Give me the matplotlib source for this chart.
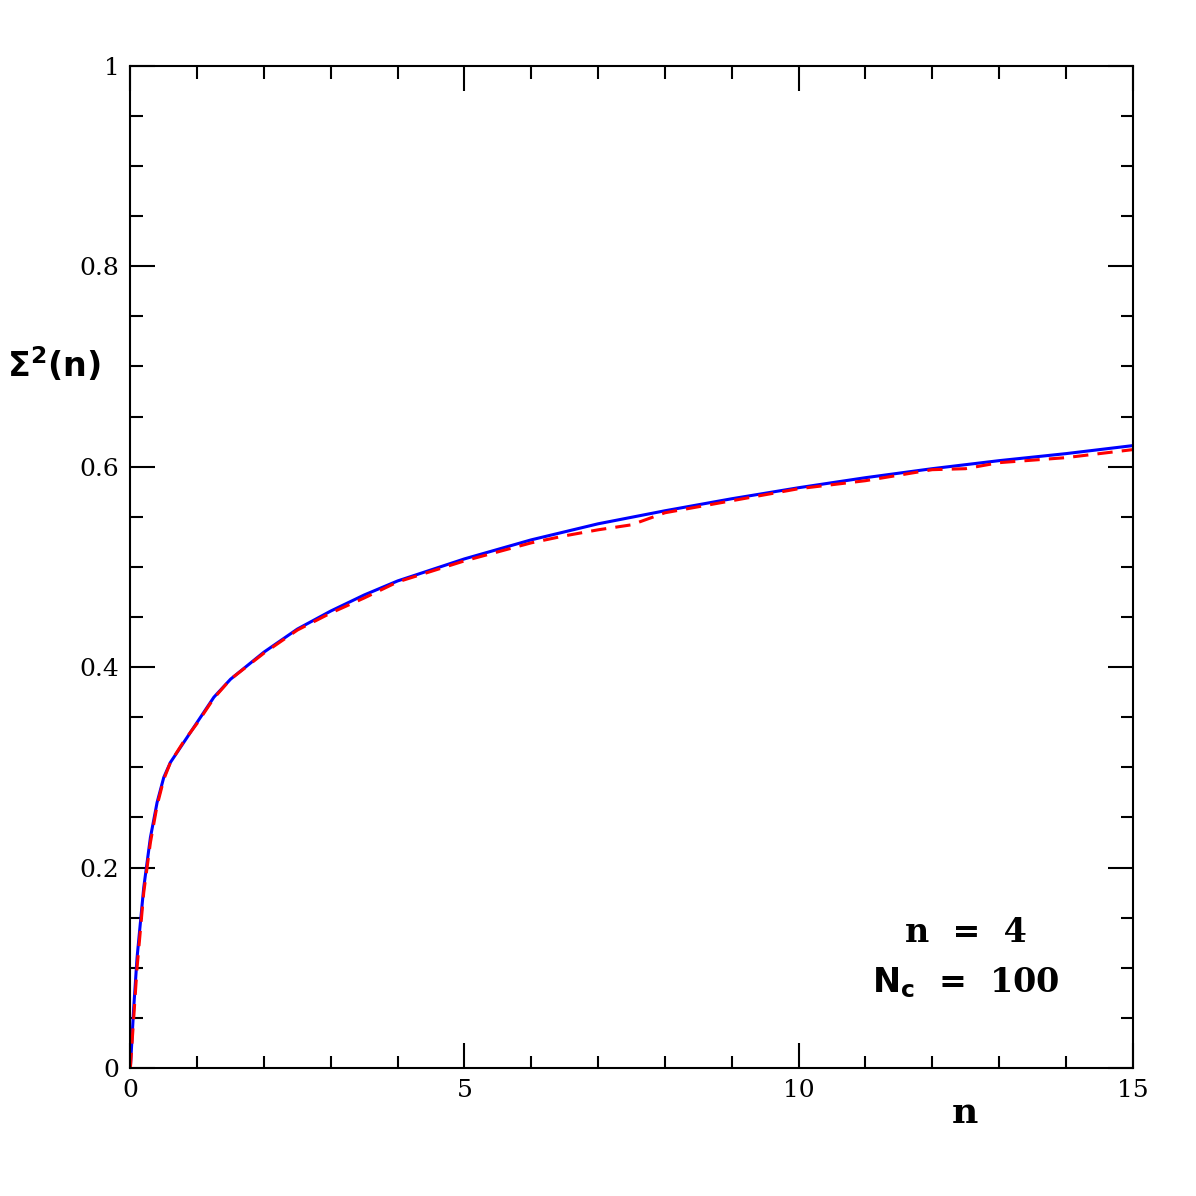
import matplotlib
matplotlib.use("Agg")
import matplotlib.pyplot as plt

n_blue = [0, 0.05, 0.1, 0.2, 0.3, 0.4, 0.5, 0.6, 0.8, 1.0, 1.25, 1.5, 2.0, 2.5, 3.0, 3.5, 4.0, 5.0, 6.0, 7.0, 8.0, 9.0, 10.0, 11.0, 12.0, 13.0, 14.0, 15.0]
s_blue = [0, 0.06, 0.11, 0.18, 0.23, 0.265, 0.29, 0.305, 0.325, 0.345, 0.37, 0.388, 0.415, 0.438, 0.456, 0.472, 0.486, 0.508, 0.527, 0.543, 0.556, 0.568, 0.579, 0.589, 0.598, 0.606, 0.613, 0.621]
n_red = [0, 0.05, 0.1, 0.2, 0.3, 0.4, 0.5, 0.6, 0.8, 1.0, 1.25, 1.5, 2.0, 2.5, 3.0, 3.5, 4.0, 5.0, 6.0, 6.5, 7.0, 7.5, 8.0, 9.0, 10.0, 11.0, 12.0, 12.5, 13.0, 14.0, 15.0]
s_red = [0, 0.05, 0.10, 0.175, 0.225, 0.262, 0.288, 0.305, 0.326, 0.344, 0.369, 0.388, 0.414, 0.437, 0.454, 0.469, 0.485, 0.506, 0.524, 0.531, 0.537, 0.542, 0.554, 0.566, 0.578, 0.586, 0.597, 0.598, 0.604, 0.609, 0.617]

plt.rcParams['font.family'] = 'DejaVu Serif'
fig = plt.figure(figsize=(11.96, 11.96), dpi=100)
ax = fig.add_axes([0.109, 0.107, 0.838, 0.838])
ax.plot(n_blue, s_blue, color='blue', lw=2.2)
ax.plot(n_red, s_red, color='red', lw=2.2, ls=(0, (5, 3)))
ax.set_xlim(0, 15)
ax.set_ylim(0, 1)
ax.set_xticks([0, 5, 10, 15])
ax.set_xticklabels(['0', '5', '10', '15'])
ax.set_yticks([0, 0.2, 0.4, 0.6, 0.8, 1])
ax.set_yticklabels(['0', '0.2', '0.4', '0.6', '0.8', '1'])
ax.set_xticks(range(16), minor=True)
ax.set_yticks([i * 0.05 for i in range(21)], minor=True)
ax.tick_params(which='both', direction='in', top=True, right=True, width=1.5, labelsize=18, pad=8)
ax.tick_params(which='major', length=18)
ax.tick_params(which='minor', length=9)
for s in ax.spines.values():
    s.set_linewidth(1.5)
fig.text(0.807, 0.055, 'n', fontsize=26, fontweight='bold', ha='center', va='bottom')
fig.text(0.045, 0.695, r'$\mathbf{\Sigma^2(n)}$', fontsize=24, ha='center', va='center')
ax.text(12.5, 0.135, 'n  =  4', fontsize=24, fontweight='bold', ha='center', va='center')
ax.text(12.5, 0.085, r'$\mathbf{N_c}$  =  100', fontsize=24, fontweight='bold', ha='center', va='center')
fig.savefig('out.png', dpi=100)
